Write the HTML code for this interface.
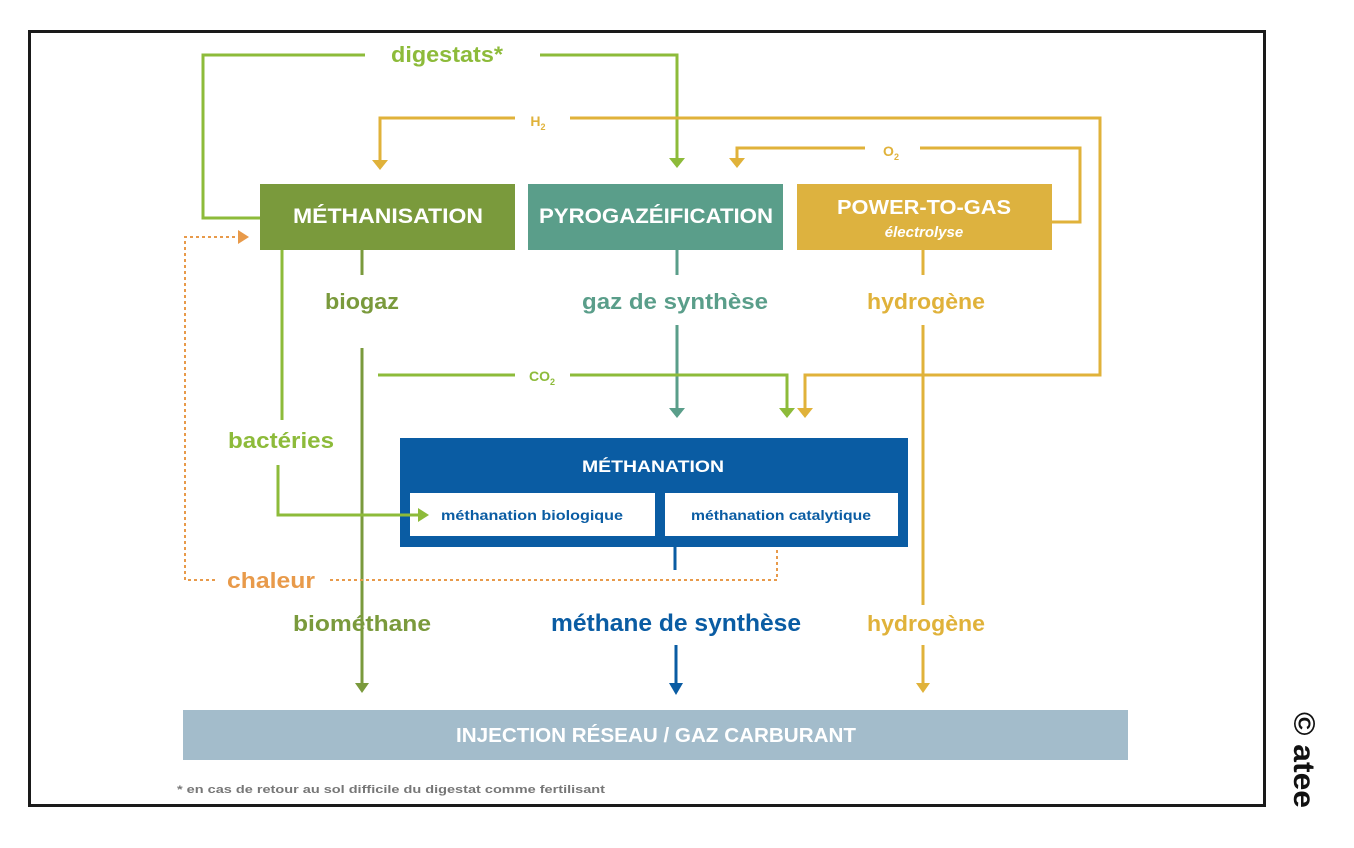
<!DOCTYPE html>
<html><head><meta charset="utf-8"><style>
html,body{margin:0;padding:0;background:#fff;width:1354px;height:848px;overflow:hidden}
svg text{font-family:"Liberation Sans Narrow","Liberation Sans",sans-serif;font-weight:bold}
</style></head><body>
<svg width="1354" height="848" viewBox="0 0 1354 848" xmlns="http://www.w3.org/2000/svg">
<rect x="29.5" y="31.5" width="1235" height="774" fill="#fff" stroke="#1a1a1a" stroke-width="3"/>
<g fill="none" stroke-width="3">
<polyline points="260,218 203,218 203,55 365,55" stroke="#8dbb3a"/>
<polyline points="540,55 677,55 677,160" stroke="#8dbb3a"/>
<polyline points="515,118 380,118 380,160" stroke="#e0b23a"/>
<polyline points="570,118 1100,118 1100,375 805,375 805,410" stroke="#e0b23a"/>
<polyline points="865,148 737,148 737,160" stroke="#e0b23a"/>
<polyline points="920,148 1080,148 1080,222 1052,222" stroke="#e0b23a"/>
<line x1="362" y1="250" x2="362" y2="275" stroke="#7a9a3c"/>
<line x1="362" y1="348" x2="362" y2="685" stroke="#7a9a3c"/>
<line x1="677" y1="250" x2="677" y2="275" stroke="#5a9e8a"/>
<line x1="677" y1="325" x2="677" y2="410" stroke="#5a9e8a"/>
<line x1="923" y1="250" x2="923" y2="275" stroke="#e0b23a"/>
<line x1="923" y1="325" x2="923" y2="605" stroke="#e0b23a"/>
<line x1="923" y1="645" x2="923" y2="685" stroke="#e0b23a"/>
<line x1="378" y1="375" x2="515" y2="375" stroke="#8dbb3a"/>
<polyline points="570,375 787,375 787,410" stroke="#8dbb3a"/>
<line x1="282" y1="250" x2="282" y2="420" stroke="#8dbb3a"/>
<line x1="675" y1="547" x2="675" y2="570" stroke="#0a5ca3"/>
<line x1="676" y1="645" x2="676" y2="685" stroke="#0a5ca3"/>
</g>
<g fill="none" stroke="#e89a4a" stroke-width="2" stroke-dasharray="3,3">
<polyline points="777,550 777,580 330,580"/>
<polyline points="215,580 185,580 185,237 240,237"/>
</g>
<g>
<path d="M372,160 L388,160 L380,170 z" fill="#e0b23a"/>
<path d="M669,158 L685,158 L677,168 z" fill="#8dbb3a"/>
<path d="M729,158 L745,158 L737,168 z" fill="#e0b23a"/>
<path d="M669,408 L685,408 L677,418 z" fill="#5a9e8a"/>
<path d="M779,408 L795,408 L787,418 z" fill="#8dbb3a"/>
<path d="M797,408 L813,408 L805,418 z" fill="#e0b23a"/>
<path d="M238,230 L238,244 L249,237 z" fill="#e89a4a"/>
<path d="M355,683 L369,683 L362,693 z" fill="#7a9a3c"/>
<path d="M669,683 L683,683 L676,695 z" fill="#0a5ca3"/>
<path d="M916,683 L930,683 L923,693 z" fill="#e0b23a"/>
</g>
<rect x="260" y="184" width="255" height="66" fill="#7a9a3c"/>
<rect x="528" y="184" width="255" height="66" fill="#5a9e8a"/>
<rect x="797" y="184" width="255" height="66" fill="#ddb23f"/>
<rect x="400" y="438" width="508" height="109" fill="#0a5ca3"/>
<rect x="410" y="493" width="245" height="43" fill="#fff"/>
<rect x="665" y="493" width="233" height="43" fill="#fff"/>
<rect x="183" y="710" width="945" height="50" fill="#a3bccb"/>
<polyline points="278,465 278,515 420,515" fill="none" stroke="#8dbb3a" stroke-width="3"/>
<path d="M418,508 L418,522 L429,515 z" fill="#8dbb3a"/>
<g text-anchor="middle">
<text x="447" y="62" font-size="22" fill="#8dbb3a" textLength="112" lengthAdjust="spacingAndGlyphs">digestats*</text>
<text x="538" y="126" font-size="14" fill="#e0b23a">H<tspan font-size="9" dy="4">2</tspan></text>
<text x="891" y="156" font-size="14" fill="#e0b23a">O<tspan font-size="9" dy="4">2</tspan></text>
<text x="388" y="223" font-size="21" fill="#fff" textLength="190" lengthAdjust="spacingAndGlyphs">MÉTHANISATION</text>
<text x="656" y="223" font-size="21" fill="#fff" textLength="234" lengthAdjust="spacingAndGlyphs">PYROGAZÉIFICATION</text>
<text x="924" y="214" font-size="20" fill="#fff" textLength="174" lengthAdjust="spacingAndGlyphs">POWER-TO-GAS</text>
<text x="924" y="237" font-size="15" fill="#fff" font-style="italic">électrolyse</text>
<text x="362" y="309" font-size="22" fill="#7a9a3c" textLength="74" lengthAdjust="spacingAndGlyphs">biogaz</text>
<text x="675" y="309" font-size="22" fill="#5a9e8a" textLength="186" lengthAdjust="spacingAndGlyphs">gaz de synthèse</text>
<text x="926" y="309" font-size="22" fill="#e0b23a" textLength="118" lengthAdjust="spacingAndGlyphs">hydrogène</text>
<text x="542" y="381" font-size="14" fill="#8dbb3a">CO<tspan font-size="9" dy="4">2</tspan></text>
<text x="281" y="448" font-size="22" fill="#8dbb3a" textLength="106" lengthAdjust="spacingAndGlyphs">bactéries</text>
<text x="653" y="472" font-size="17" fill="#fff" textLength="142" lengthAdjust="spacingAndGlyphs">MÉTHANATION</text>
<text x="532" y="520" font-size="14" fill="#0a5ca3" textLength="182" lengthAdjust="spacingAndGlyphs">méthanation biologique</text>
<text x="781" y="520" font-size="14" fill="#0a5ca3" textLength="180" lengthAdjust="spacingAndGlyphs">méthanation catalytique</text>
<text x="271" y="588" font-size="22" fill="#e89a4a" textLength="88" lengthAdjust="spacingAndGlyphs">chaleur</text>
<text x="362" y="631" font-size="22" fill="#7a9a3c" textLength="138" lengthAdjust="spacingAndGlyphs">biométhane</text>
<text x="676" y="631" font-size="24" fill="#0a5ca3" textLength="250" lengthAdjust="spacingAndGlyphs">méthane de synthèse</text>
<text x="926" y="631" font-size="22" fill="#e0b23a" textLength="118" lengthAdjust="spacingAndGlyphs">hydrogène</text>
<text x="656" y="742" font-size="20" fill="#fff" textLength="400" lengthAdjust="spacingAndGlyphs">INJECTION RÉSEAU / GAZ CARBURANT</text>
</g>
<text x="177" y="793" font-size="11" fill="#777" font-weight="normal" textLength="428" lengthAdjust="spacingAndGlyphs">* en cas de retour au sol difficile du digestat comme fertilisant</text>
<text transform="translate(1294,712) rotate(90)" font-size="30" fill="#111" style="font-family:'Liberation Sans',sans-serif;font-weight:bold" textLength="96" lengthAdjust="spacingAndGlyphs">© atee</text>
</svg>
</body></html>
